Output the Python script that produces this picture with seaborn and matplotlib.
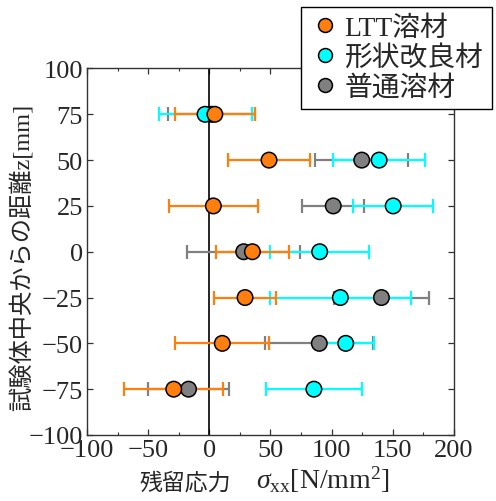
import numpy as np
import pandas as pd
import matplotlib
matplotlib.use("Agg")
import matplotlib.pyplot as plt
from matplotlib.ticker import MultipleLocator
import seaborn as sns

# ---- data ----
z_pos = [75, 50, 25, 0, -25, -50, -75]
series_names = ["LTT溶材", "形状改良材", "普通溶材"]
ltt_val = [4.5, 48.8, 3.3, 35.2, 29.2, 10.6, -29.1]
ltt_err = [32.5, 33.5, 36.6, 29.7, 25.4, 38.5, 40.3]
shape_val = [-3.5, 138.8, 150.3, 90.2, 107.1, 111.5, 85.5]
shape_err = [38.0, 37.5, 32.8, 40.5, 57.5, 23.2, 39.1]
normal_val = [1.5, 124.6, 101.3, 28.1, 140.7, 89.9, -17.0]
normal_err = [35.5, 38.2, 25.2, 46.3, 38.5, 44.2, 32.8]
x_ticks = [-100, -50, 0, 50, 100, 150, 200]
y_ticks = [-100, -75, -50, -25, 0, 25, 50, 75, 100]

colors = {"LTT溶材": "#ff7f0e", "形状改良材": "#00ffff", "普通溶材": "#808080"}

sns.set_theme(style="ticks")
plt.rcParams["font.family"] = ["Liberation Serif", "Noto Sans CJK JP"]
plt.rcParams["mathtext.fontset"] = "custom"
plt.rcParams["mathtext.rm"] = "Liberation Serif"
plt.rcParams["mathtext.it"] = "Liberation Serif:italic"
plt.rcParams["axes.unicode_minus"] = True

df = pd.concat([
    pd.DataFrame({"sigma": ltt_val, "err": ltt_err, "z": z_pos, "material": series_names[0]}),
    pd.DataFrame({"sigma": shape_val, "err": shape_err, "z": z_pos, "material": series_names[1]}),
    pd.DataFrame({"sigma": normal_val, "err": normal_err, "z": z_pos, "material": series_names[2]}),
], ignore_index=True)

fig = plt.figure(figsize=(4.96, 5.02), dpi=100)
ax = fig.add_axes([0.1754, 0.1315, 0.9153 - 0.1754, 0.8616 - 0.1315])

ax.axvline(0, color="black", lw=1.2, zorder=1.5)

for name in ["普通溶材", "形状改良材", "LTT溶材"]:
    sub = df[df["material"] == name]
    ax.errorbar(sub["sigma"], sub["z"], xerr=sub["err"], fmt="none",
                ecolor=colors[name], elinewidth=1.6, capsize=5, capthick=1.6, zorder=2)

sns.scatterplot(data=df.iloc[::-1], x="sigma", y="z", hue="material",
                hue_order=series_names, palette=colors, s=125,
                edgecolor="black", linewidth=1.1, ax=ax, zorder=3)

ax.set_xlim(-100, 200)
ax.set_ylim(-100, 100)
ax.set_xticks(x_ticks)
ax.set_yticks(y_ticks)
ax.xaxis.set_minor_locator(MultipleLocator(25))
ax.tick_params(axis="both", which="both", direction="in", top=True, right=True,
               labelsize=19, pad=3)
ax.tick_params(which="major", length=4, width=0.9, color="#333333")
ax.tick_params(which="minor", length=2.5, width=0.8, color="#333333")
for sp in ax.spines.values():
    sp.set_color("#333333")
    sp.set_linewidth(1.0)

# x label: CJK part + Latin/math part
ax.set_xlabel("")
fig.text(231 / 496, 1 - 490 / 502, "残留応力", fontsize=16.5,
         family=["Noto Sans CJK JP"], ha="right", va="baseline")
fig.text(256 / 496, 1 - 489 / 502,
         r"$\sigma_{\mathrm{xx}}\mathrm{[N/mm}^{2}\mathrm{]}$",
         fontsize=20, ha="left", va="baseline")

ax.set_ylabel("試験体中央からの距離z[mm]", fontsize=17.5,
              family=["Liberation Serif", "Noto Sans CJK JP"], va="center")
ax.yaxis.set_label_coords(-0.178, 0.488)

sns.move_legend(ax, "upper left", bbox_to_anchor=(0.607, 0.984),
                bbox_transform=fig.transFigure, title=None, frameon=True,
                fontsize=20, fancybox=False, edgecolor="black", framealpha=1,
                handletextpad=0.12, handlelength=1.15, borderpad=0.3,
                labelspacing=0.15, borderaxespad=0)
leg = ax.get_legend()
leg.get_frame().set_linewidth(1.0)
leg.set_zorder(10)
for h in leg.legend_handles:
    h.set_markersize(10)

fig.savefig("out.png", dpi=100)
